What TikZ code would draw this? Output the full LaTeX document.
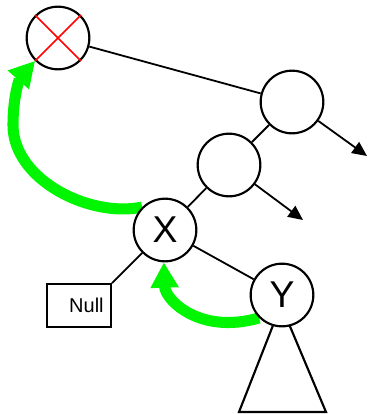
\documentclass[tikz,border=0pt]{standalone}
\usepackage{fontspec}
\setmainfont{Liberation Sans}
\usetikzlibrary{arrows.meta}
\pgfdeclarelayer{bg}
\pgfsetlayers{bg,main}
\definecolor{rotgreen}{RGB}{0,245,0}
\tikzset{
  every picture/.style={line width=1.35pt},
  treenode/.style={circle, draw, line width=1.6pt, fill=white, minimum size=47pt, inner sep=0pt, font=\fontsize{28}{32}\selectfont},
  nullbox/.style={draw, line width=1.6pt, fill=white, minimum width=48pt, minimum height=32pt, inner sep=0pt, text width=37pt, align=right, font=\fontsize{15}{18}\selectfont},
  outarrow/.style={-{Triangle[length=11pt,width=10pt]}},
  rotarrow/.style={draw=rotgreen, line width=8.3pt, -{Triangle[length=19pt,width=20pt]}},
}

\begin{document}
\begin{tikzpicture}[x=0.75pt,y=0.75pt,yscale=-1]
\useasboundingbox (0,0) rectangle (369,414);

% tree nodes
\node[treenode] (top) at (58,38) {};
\node[treenode] (n1) at (292,102) {};
\node[treenode] (n2) at (229,165) {};
\node[treenode] (X) at (165,230) {X};
\node[treenode] (Y) at (282,295) {Y};
\node[nullbox] (null) at (79,305.5) {Null};

% removed node
\draw[red, line width=1.2pt] (top.45) -- (top.225) (top.135) -- (top.-45);

% edges
\draw (top) -- (n1);
\draw (n1) -- (n2);
\draw (n2) -- (X);
\draw (X) -- (Y);
\draw (X) -- (null.north east);

% open children
\coordinate (n1out) at (367,156);
\coordinate (n2out) at (303,220);
\draw[outarrow] (n1) -- (n1out);
\draw[outarrow] (n2) -- (n2out);

\begin{pgfonlayer}{bg}
% subtree under Y
\draw[line width=1.6pt] (281,305) -- (239,412) -- (326,412) -- cycle;
% rotations
\draw[rotarrow] (X.135) .. controls (90,218) and (13,180) .. (13,125) .. controls (13,95) and (20,78) .. (top.225);
\draw[rotarrow] (Y.225) .. controls (200,335) and (165,300) .. (X.268);
\end{pgfonlayer}

\end{tikzpicture}
\end{document}
